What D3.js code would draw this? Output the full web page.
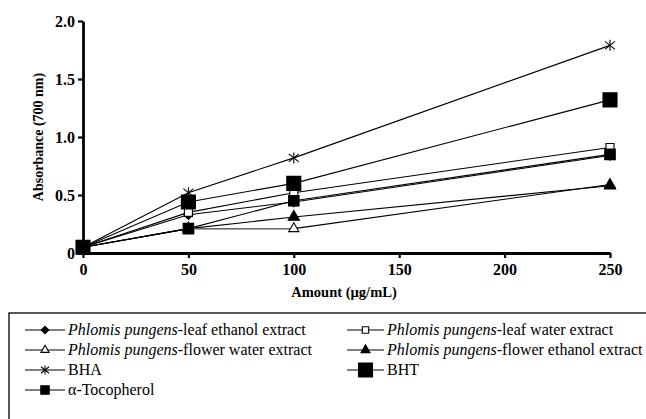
<!DOCTYPE html>
<html>
<head>
<meta charset="utf-8">
<script src="https://cdn.jsdelivr.net/npm/d3@7"></script>
<style>
  body { margin: 0; background: #fff; }
</style>
</head>
<body>
<script>
// Data
let amounts = [0, 50, 100, 250];
let leafEthanol   = [0.05, 0.33, 0.44, 0.84];
let leafWater     = [0.05, 0.35, 0.52, 0.91];
let flowerWater   = [0.05, 0.21, 0.21, 0.59];
let flowerEthanol = [0.05, 0.21, 0.31, 0.58];
let bha           = [0.05, 0.52, 0.82, 1.79];
let bht           = [0.05, 0.44, 0.60, 1.32];
let tocopherol    = [0.05, 0.21, 0.45, 0.85];
let xTicks = [0, 50, 100, 150, 200, 250];
let yTicks = [0, 0.5, 1.0, 1.5, 2.0];

let width = 646, height = 419;
let serif = "'Liberation Serif', 'Times New Roman', serif";

let svg = d3.select("body").append("svg")
  .attr("width", width).attr("height", height)
  .attr("font-family", "Liberation Serif");

let x = d3.scaleLinear().domain([0, 250]).range([83, 610]);
let y = d3.scaleLinear().domain([0, 2.0]).range([253, 21]);

// marker shapes
let markers = {
  diamond: { type: d3.symbolSquare, size: 44, fill: "#000", rot: 45 },
  openSquare: { type: d3.symbolSquare, size: 64, fill: "#fff" },
  openTri: { type: d3.symbolTriangle, size: 45, fill: "#fff" },
  tri: { type: d3.symbolTriangle, size: 55, fill: "#000" },
  star: { cross: true },
  bigSquare: { type: d3.symbolSquare, size: 196, fill: "#000" },
  square: { type: d3.symbolSquare, size: 110, fill: "#000" }
};

let series = [
  { label: "leaf ethanol extract", italic: true, vals: leafEthanol, m: "diamond" },
  { label: "leaf water extract", italic: true, vals: leafWater, m: "openSquare" },
  { label: "flower water extract", italic: true, vals: flowerWater, m: "openTri" },
  { label: "flower ethanol extract", italic: true, vals: flowerEthanol, m: "tri" },
  { label: "BHA", vals: bha, m: "star" },
  { label: "BHT", vals: bht, m: "bigSquare" },
  { label: "α-Tocopherol", vals: tocopherol, m: "square" }
];

function drawMarker(g, mk, cx, cy, scale) {
  let m = markers[mk];
  let s = scale || 1;
  if (m.cross) {
    let r = 5 * s;
    let p = g.append("g").attr("transform", `translate(${cx},${cy})`)
      .attr("stroke", "#000").attr("stroke-width", 1.1);
    p.append("line").attr("x1", -r).attr("y1", -r * 0.8).attr("x2", r).attr("y2", r * 0.8);
    p.append("line").attr("x1", -r).attr("y1", r * 0.8).attr("x2", r).attr("y2", -r * 0.8);
    p.append("line").attr("x1", 0).attr("y1", -r * 1.1).attr("x2", 0).attr("y2", r * 1.1);
    return;
  }
  g.append("path")
    .attr("d", d3.symbol().type(m.type).size(m.size * s * s)())
    .attr("transform", `translate(${cx},${cy}) rotate(${m.rot || 0})`)
    .attr("fill", m.fill)
    .attr("stroke", "#000")
    .attr("stroke-width", 1.1);
}

let line = d3.line().x((d, i) => x(amounts[i])).y(d => y(d));

// lines
series.forEach(s => {
  svg.append("path")
    .datum(s.vals)
    .attr("d", line)
    .attr("fill", "none")
    .attr("stroke", "#000")
    .attr("stroke-width", 1.1);
});
// grey flat segment of flower water extract
svg.append("line")
  .attr("x1", x(amounts[1])).attr("y1", y(flowerWater[1]))
  .attr("x2", x(amounts[2])).attr("y2", y(flowerWater[2]))
  .attr("stroke", "#666").attr("stroke-width", 1.4);

// axes
let xAxis = d3.axisBottom(x).tickValues(xTicks).tickSize(5).tickSizeOuter(0).tickPadding(6);
let yAxis = d3.axisLeft(y).tickValues(yTicks).tickSize(5).tickSizeOuter(0).tickPadding(3)
  .tickFormat(d => d === 0 ? "0" : d3.format(".1f")(d));

let gx = svg.append("g").attr("transform", "translate(0,253)").call(xAxis);
let gy = svg.append("g").attr("transform", "translate(83,0)").call(yAxis);
[gx, gy].forEach(g => {
  g.attr("font-family", "Liberation Serif");
  g.select(".domain").attr("stroke-width", 2.8).attr("stroke", "#000");
  g.selectAll(".tick line").attr("stroke-width", 2.2).attr("stroke", "#000");
  g.selectAll(".tick text")
    .style("font-family", serif)
    .style("font-size", "16px").style("font-weight", "bold").attr("fill", "#000");
});
gy.selectAll(".tick text").attr("dy", "0.35em");

// markers
series.forEach(s => {
  s.vals.forEach((v, i) => drawMarker(svg, s.m, x(amounts[i]), y(v)));
});

// axis titles
svg.append("text")
  .attr("x", 344).attr("y", 297)
  .attr("text-anchor", "middle")
  .style("font-family", serif)
  .style("font-size", "14.5px").style("font-weight", "bold")
  .text("Amount (µg/mL)");
svg.append("text")
  .attr("transform", "translate(43,137) rotate(-90)")
  .attr("text-anchor", "middle")
  .style("font-family", serif)
  .style("font-size", "14px").style("font-weight", "bold")
  .text("Absorbance (700 nm)");

// legend
svg.append("rect")
  .attr("x", 9).attr("y", 313).attr("width", 640).attr("height", 120)
  .attr("fill", "none").attr("stroke", "#000").attr("stroke-width", 1.3);

let legendPos = [
  [25, 330], [347, 330], [25, 350], [347, 350], [25, 370], [347, 370], [25, 390]
];
series.forEach((s, i) => {
  let [lx, ly] = legendPos[i];
  let len = lx > 100 ? 37 : 40;
  let g = svg.append("g");
  g.append("line").attr("x1", lx).attr("x2", lx + len).attr("y1", ly).attr("y2", ly)
    .attr("stroke", "#000").attr("stroke-width", 1.1);
  drawMarker(g, s.m, lx + len / 2, ly, s.m === "bigSquare" ? 1 : 0.8);
  let t = g.append("text").attr("x", lx + len + 3).attr("y", ly + 5)
    .style("font-family", serif)
    .style("font-size", "16px");
  if (s.italic) {
    t.append("tspan").style("font-style", "italic").text("Phlomis pungens");
    t.append("tspan").text("-" + s.label);
  } else {
    t.text(s.label);
  }
});
</script>
</body>
</html>
